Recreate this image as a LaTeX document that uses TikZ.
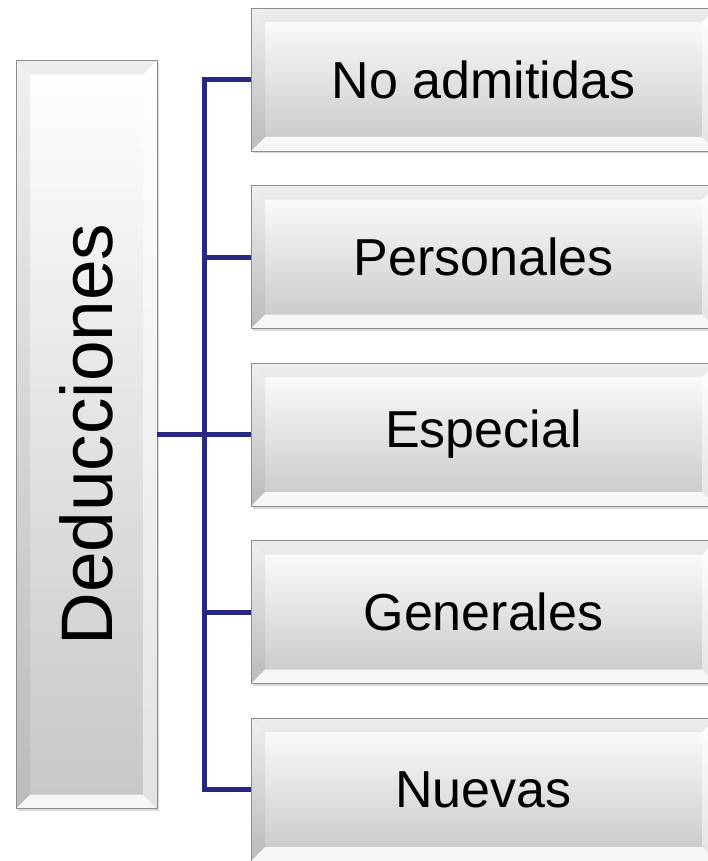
\documentclass[tikz,border=0pt]{standalone}
\usepackage{fontspec}
\setmainfont{Liberation Sans}
\usepackage{graphicx}
\usepackage{tikz}
\usetikzlibrary{shadows}
\definecolor{navy}{RGB}{40, 40, 130}
\definecolor{rim}{RGB}{140, 140, 140}
\tikzset{
  bevelbox/.style = {shape=rectangle, draw=rim, line width=0.8pt,
                     top color=white, bottom color=black!22,
                     drop shadow={shadow xshift=1.5pt, shadow yshift=-2.5pt, opacity=.3},
                     path picture={
                       \fill[black, opacity=.07]
                         (path picture bounding box.north west) -- (path picture bounding box.north east)
                         -- ([shift={(-14pt,-14pt)}]path picture bounding box.north east)
                         -- ([shift={(14pt,-14pt)}]path picture bounding box.north west) -- cycle;
                       \fill[white, opacity=.85]
                         (path picture bounding box.south west) -- (path picture bounding box.south east)
                         -- ([shift={(-14pt,14pt)}]path picture bounding box.south east)
                         -- ([shift={(14pt,14pt)}]path picture bounding box.south west) -- cycle;
                       \fill[black, opacity=.06]
                         (path picture bounding box.north west) -- (path picture bounding box.south west)
                         -- ([shift={(14pt,14pt)}]path picture bounding box.south west)
                         -- ([shift={(14pt,-14pt)}]path picture bounding box.north west) -- cycle;
                       \fill[white, opacity=.5]
                         (path picture bounding box.north east) -- (path picture bounding box.south east)
                         -- ([shift={(-14pt,14pt)}]path picture bounding box.south east)
                         -- ([shift={(-14pt,-14pt)}]path picture bounding box.north east) -- cycle;
                     }},
  rootbox/.style  = {bevelbox, minimum width=141pt, minimum height=748pt, inner sep=0pt,
                     font=\fontsize{73}{80}\selectfont},
  itembox/.style  = {bevelbox, minimum width=465pt, minimum height=143pt, inner sep=0pt,
                     font=\fontsize{52}{60}\selectfont},
}

\begin{document}
\begin{tikzpicture}
  [
    grow'                   = right,
    level distance          = 397pt,
    sibling distance        = 177.5pt,
    edge from parent/.style = {draw=navy, line width=5pt},
    edge from parent path   = {(\tikzparentnode.east) -- ++(47pt,0) |- (\tikzchildnode.west)}
  ]
  \useasboundingbox (0,0) rectangle (707pt,-861pt);
  \node [rootbox] (deduc) at (86.5pt,-434.5pt) {\rotatebox{90}{Deducciones}}
    child { node [itembox] (noadm) {No admitidas} }
    child { node [itembox] (pers) {Personales} }
    child { node [itembox] (esp) {Especial} }
    child { node [itembox] (gen) {Generales} }
    child { node [itembox] (nuev) {Nuevas} };
\end{tikzpicture}
\end{document}
